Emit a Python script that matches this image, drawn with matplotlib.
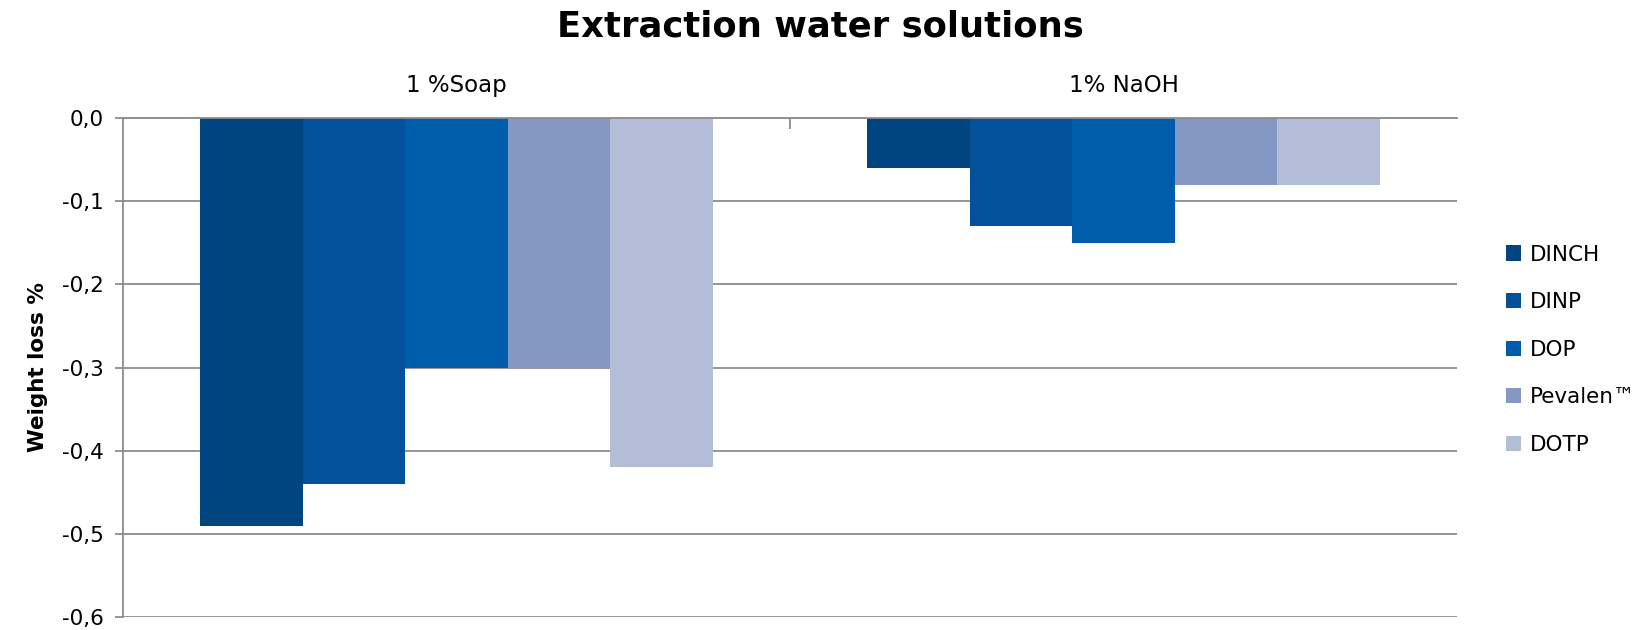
import numpy as np
import matplotlib
matplotlib.use("Agg")
import matplotlib.pyplot as plt
from matplotlib.patches import Patch

# data
categories = ["1 %Soap", "1% NaOH"]
series = ["DINCH", "DINP", "DOP", "Pevalen\u2122", "DOTP"]
soap_vals = [-0.49, -0.44, -0.30, -0.30, -0.42]
naoh_vals = [-0.06, -0.13, -0.15, -0.08, -0.08]
yticks = [0.0, -0.1, -0.2, -0.3, -0.4, -0.5, -0.6]

colors = ["#00457f", "#02519a", "#005dac", "#8598c3", "#b3bdd8"]

values = np.array([soap_vals, naoh_vals])  # [category, series]

fig = plt.figure(figsize=(16.44, 6.30), dpi=100)
ax = fig.add_axes([0.0748, 0.0206, 0.8115, 0.792])

n = len(series)
width = 1.0 / (n + 1.5)  # excel gap width 150%
x = np.arange(len(categories))
for i in range(n):
    offs = (i - (n - 1) / 2) * width
    ax.bar(x + offs, values[:, i], width=width, color=colors[i],
           edgecolor="none", zorder=2)

ax.set_xlim(-0.5, 1.5)
ax.set_ylim(-0.6, 0.0)
ax.set_yticks(yticks)
ax.set_yticklabels([f"{v:.1f}".replace(".", ",") for v in yticks], fontsize=15.5)
ax.yaxis.grid(True, color="#8c8c8c", linewidth=1.3, zorder=0)
ax.tick_params(axis="y", length=6, color="#8c8c8c", width=1.3, pad=8)

# category labels on top, separator tick between groups
ax.xaxis.tick_top()
ax.set_xticks([0.5])
ax.set_xticklabels([""])
ax.tick_params(axis="x", which="major", direction="in", length=8,
               color="#8c8c8c", width=1.3)
ax.set_xticks(x, minor=True)
ax.set_xticklabels(categories, minor=True, fontsize=16.5)
ax.tick_params(axis="x", which="minor", length=0, pad=15)

for s in ["right", "bottom"]:
    ax.spines[s].set_visible(False)
ax.spines["left"].set_color("#8c8c8c")
ax.spines["left"].set_linewidth(1.3)
ax.spines["top"].set_color("#8c8c8c")
ax.spines["top"].set_linewidth(1.3)

ax.set_ylabel("Weight loss %", fontsize=15.5, fontweight="bold", labelpad=10)
fig.text(0.499, 0.958, "Extraction water solutions", ha="center", va="center",
         fontsize=25.5, fontweight="bold")

handles = [Patch(facecolor=c, edgecolor="none") for c in colors]
fig.legend(handles, series, loc="center left", bbox_to_anchor=(0.904, 0.445),
           frameon=False, fontsize=15.5, handlelength=0.7, handleheight=0.7,
           handletextpad=0.45, labelspacing=1.28)

fig.savefig("out.png", dpi=100)
